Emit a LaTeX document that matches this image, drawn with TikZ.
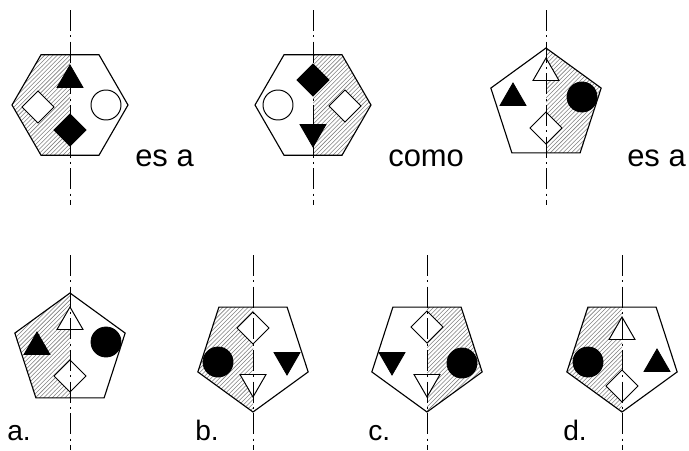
\documentclass[tikz,border=0pt]{standalone}
\usepackage{fontspec}
\setmainfont{Liberation Sans}
\usetikzlibrary{patterns}

\tikzset{
  contorno/.style={line width=0.8pt},
  eje/.style={line width=0.6pt,dash pattern=on 15pt off 3pt on 1.5pt off 3pt},
  rayado/.style={pattern=north east lines,pattern color=gray},
  lleno/.style={fill=black,line width=0.6pt},
  vacio/.style={fill=white,draw=black,line width=0.7pt},
  texto/.style={font=\fontsize{22}{26}\selectfont,anchor=base west,inner sep=0pt},
  letra/.style={font=\fontsize{20}{24}\selectfont,anchor=base west,inner sep=0pt}
}

% #1 centro, #2 lado rayado (-60 izquierda, 60 derecha)
\newcommand{\hexagono}[2]{%
  \begin{scope}[shift={(#1)}]
    \begin{scope}
      \clip (0:58) -- (60:58) -- (120:58) -- (180:58) -- (240:58) -- (300:58) -- cycle;
      \fill[rayado] (0,-60) rectangle (#2,60);
    \end{scope}
    \draw[contorno] (0:58) -- (60:58) -- (120:58) -- (180:58) -- (240:58) -- (300:58) -- cycle;
  \end{scope}}
% #3 = 90 punta arriba, -90 punta abajo
\newcommand{\pentagono}[3]{%
  \begin{scope}[shift={(#1)}]
    \begin{scope}
      \clip (#3:58) -- (#3+72:58) -- (#3+144:58) -- (#3+216:58) -- (#3+288:58) -- cycle;
      \fill[rayado] (0,-60) rectangle (#2,60);
    \end{scope}
    \draw[contorno] (#3:58) -- (#3+72:58) -- (#3+144:58) -- (#3+216:58) -- (#3+288:58) -- cycle;
  \end{scope}}
\newcommand{\triang}[3]{\draw[#1,shift={(#2)},rotate=#3] (90:15) -- (210:15) -- (330:15) -- cycle;}
\newcommand{\rombo}[2]{\draw[#1] (#2) +(16,0) -- +(0,16) -- +(-16,0) -- +(0,-16) -- cycle;}
\newcommand{\circulo}[2]{\draw[#1] (#2) circle (15);}

\begin{document}
\begin{tikzpicture}[line cap=butt,line join=miter,x=0.025cm,y=0.025cm]
\useasboundingbox (0,0) rectangle (689,450);

% fila de arriba
\hexagono{70,345}{-60}
\triang{lleno}{70,370}{0}
\rombo{vacio}{38,343}
\circulo{vacio}{106,345}
\rombo{lleno}{70,320}
\draw[eje] (70,440) -- (70,245);
\node[texto] (esa1) at (135,284) {es a};

\hexagono{313,345}{60}
\rombo{lleno}{313,370}
\circulo{vacio}{278,345}
\rombo{vacio}{345,344}
\triang{lleno}{313,318}{180}
\draw[eje] (313,440) -- (313,245);
\node[texto] (como) at (388,284) {como};

\pentagono{546,344}{60}{90}
\triang{vacio}{546,377}{0}
\triang{lleno}{513,352}{0}
\circulo{lleno}{582,353}
\rombo{vacio}{546,322}
\draw[eje] (546,440) -- (546,245);
\node[texto] (esa2) at (627,284) {es a};

% opciones
\pentagono{70,99}{-60}{90}
\triang{vacio}{70,128}{0}
\triang{lleno}{37,103}{0}
\circulo{lleno}{106,108}
\rombo{vacio}{70,74}
\draw[eje] (70,195) -- (70,0);
\node[letra] (opa) at (7,10) {a.};

\pentagono{253,96}{-60}{-90}
\rombo{vacio}{253,122}
\circulo{lleno}{218,88}
\triang{lleno}{287,90}{180}
\triang{vacio}{253,68}{180}
\draw[eje] (253,195) -- (253,0);
\node[letra] (opb) at (195,10) {b.};

\pentagono{427,96}{60}{-90}
\rombo{vacio}{427,123}
\triang{lleno}{392,90}{180}
\circulo{lleno}{462,87}
\triang{vacio}{427,68}{180}
\draw[eje] (427,195) -- (427,0);
\node[letra] (opc) at (368,10) {c.};

\pentagono{622,96}{-60}{-90}
\triang{vacio}{622,118}{0}
\circulo{lleno}{588,88}
\triang{lleno}{657,86}{0}
\rombo{vacio}{622,64}
\draw[eje] (622,195) -- (622,0);
\node[letra] (opd) at (563,10) {d.};
\end{tikzpicture}
\end{document}
